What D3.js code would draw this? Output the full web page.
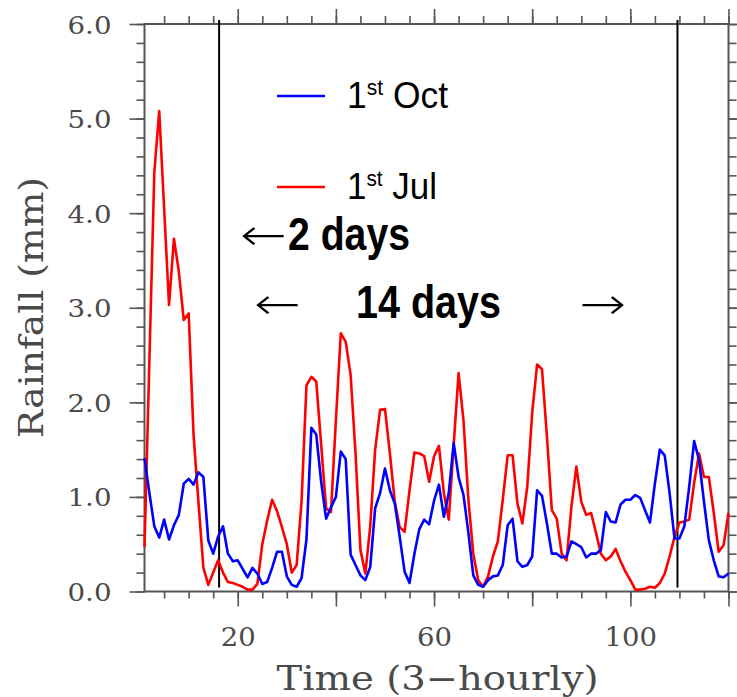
<!DOCTYPE html>
<html>
<head>
<meta charset="utf-8">
<script src="https://d3js.org/d3.v7.min.js"></script>
<style>
  body { margin: 0; background: #fff; }
</style>
</head>
<body>
<div id="my_dataviz"></div>
<script>
// time steps (3-hourly), 120 steps = 15 days
var time = d3.range(1, 121);

// rainfall (mm), run started 1st Oct
var rainOct = [1.41, 1.04, 0.69, 0.57, 0.76, 0.55, 0.70, 0.81, 1.14, 1.19,
               1.13, 1.26, 1.21, 0.54, 0.40, 0.58, 0.69, 0.40, 0.32, 0.33,
               0.24, 0.15, 0.25, 0.19, 0.08, 0.10, 0.25, 0.42, 0.42, 0.16,
               0.07, 0.05, 0.14, 0.55, 1.73, 1.66, 1.16, 0.77, 0.89, 1.00,
               1.48, 1.40, 0.39, 0.28, 0.17, 0.12, 0.26, 0.88, 1.04, 1.30,
               1.07, 0.93, 0.58, 0.21, 0.09, 0.40, 0.66, 0.76, 0.71, 0.96,
               1.13, 0.79, 1.04, 1.57, 1.21, 1.02, 0.62, 0.17, 0.07, 0.05,
               0.12, 0.16, 0.17, 0.28, 0.70, 0.77, 0.32, 0.26, 0.28, 0.37,
               1.07, 1.01, 0.72, 0.40, 0.40, 0.36, 0.37, 0.53, 0.50, 0.47,
               0.36, 0.40, 0.40, 0.44, 0.84, 0.74, 0.73, 0.92, 0.97, 0.97,
               1.02, 0.99, 0.86, 0.73, 1.14, 1.50, 1.44, 1.04, 0.56, 0.56,
               0.69, 1.11, 1.59, 1.39, 0.95, 0.54, 0.33, 0.16, 0.15, 0.19];

// rainfall (mm), run started 1st Jul
var rainJul = [0.47, 2.45, 4.43, 5.08, 4.05, 3.03, 3.73, 3.38, 2.87, 2.94,
               1.65, 0.94, 0.25, 0.07, 0.20, 0.33, 0.20, 0.10, 0.09, 0.07,
               0.05, 0.02, 0.02, 0.08, 0.50, 0.75, 0.97, 0.85, 0.68, 0.50,
               0.20, 0.28, 0.95, 2.18, 2.27, 2.22, 1.55, 0.88, 0.84, 1.81,
               2.73, 2.64, 2.29, 1.46, 0.44, 0.19, 0.69, 1.50, 1.92, 1.93,
               1.46, 0.95, 0.68, 0.63, 1.07, 1.47, 1.46, 1.43, 1.16, 1.43,
               1.54, 1.04, 0.76, 1.55, 2.31, 1.81, 0.97, 0.40, 0.12, 0.05,
               0.16, 0.37, 0.53, 0.97, 1.44, 1.44, 0.93, 0.72, 1.11, 1.89,
               2.40, 2.35, 1.64, 0.86, 0.77, 0.40, 0.33, 0.90, 1.32, 0.95,
               0.81, 0.83, 0.62, 0.40, 0.33, 0.37, 0.45, 0.32, 0.21, 0.12,
               0.02, 0.02, 0.03, 0.05, 0.04, 0.09, 0.19, 0.37, 0.58, 0.73,
               0.74, 0.76, 1.15, 1.46, 1.21, 1.21, 0.83, 0.42, 0.49, 0.83];

var yTicks = [0, 1, 2, 3, 4, 5, 6];
var xMajor = [20, 40, 60, 80, 100, 120];
var xTickLabels = [20, 60, 100];
var dayLines = [16.2, 109.6];   // spin-up (2 days) and end of 14 day window

// set the dimensions and margins of the graph
var margin = {top: 24, right: 8.5, bottom: 105.5, left: 144.5},
    width = 737 - margin.left - margin.right,
    height = 697 - margin.top - margin.bottom;

var root = d3.select("#my_dataviz")
  .append("svg")
    .attr("width", 737)
    .attr("height", 697);

var svg = root.append("g")
    .attr("transform", "translate(" + margin.left + "," + margin.top + ")");

var x = d3.scaleLinear().domain([1, 120]).range([0, width]);
var y = d3.scaleLinear().domain([0, 6]).range([height, 0]);

var axisCol = "#555";
var xMinor = d3.range(5, 121, 5);
var yMinor = d3.range(0, 31).map(function(i) { return i / 5; });

function styleAxis(g) {
  g.select(".domain").remove();
  g.selectAll(".tick line").attr("stroke", axisCol).attr("stroke-width", 1.6);
}

// Add X axis (bottom + top)
svg.append("g")
  .attr("transform", "translate(0," + height + ")")
  .call(d3.axisBottom(x).tickValues(xMinor).tickSize(7).tickFormat(""))
  .call(styleAxis);
var xb = svg.append("g")
  .attr("transform", "translate(0," + height + ")")
  .call(d3.axisBottom(x).tickValues(xMajor).tickSize(15).tickPadding(21)
    .tickFormat(function(d) { return xTickLabels.indexOf(d) >= 0 ? d : ""; }))
  .call(styleAxis);
xb.selectAll("text")
  .attr("fill", "#4a4a4a")
  .style("font-family", "DejaVu Serif")
  .style("font-size", "26px")
  .each(function(d) {
    var s = String(xTickLabels.indexOf(d) >= 0 ? d : "");
    if (s) d3.select(this).attr("textLength", 17.5 * s.length).attr("lengthAdjust", "spacingAndGlyphs");
  });

svg.append("g")
  .call(d3.axisTop(x).tickValues(xMinor).tickSize(8).tickFormat(""))
  .call(styleAxis);
svg.append("g")
  .call(d3.axisTop(x).tickValues(xMajor).tickSize(15).tickFormat(""))
  .call(styleAxis);

// Add Y axis (left + right)
svg.append("g")
  .call(d3.axisLeft(y).tickValues(yMinor).tickSize(8).tickFormat(""))
  .call(styleAxis);
var yl = svg.append("g")
  .call(d3.axisLeft(y).tickValues(yTicks).tickSize(15).tickPadding(18).tickFormat(d3.format(".1f")))
  .call(styleAxis);
yl.selectAll("text")
  .attr("fill", "#4a4a4a")
  .attr("dy", "0.36em")
  .style("font-family", "DejaVu Serif")
  .style("font-size", "25px")
  .attr("textLength", 44)
  .attr("lengthAdjust", "spacingAndGlyphs");

svg.append("g")
  .attr("transform", "translate(" + width + ",0)")
  .call(d3.axisRight(y).tickValues(yMinor).tickSize(8).tickFormat(""))
  .call(styleAxis);
svg.append("g")
  .attr("transform", "translate(" + width + ",0)")
  .call(d3.axisRight(y).tickValues(yTicks).tickSize(15).tickFormat(""))
  .call(styleAxis);

// frame
svg.append("rect")
  .attr("width", width)
  .attr("height", height)
  .attr("fill", "none")
  .attr("stroke", axisCol)
  .attr("stroke-width", 2);

// axis titles
root.append("text")
  .attr("x", 437.5)
  .attr("y", 690)
  .attr("text-anchor", "middle")
  .attr("fill", "#4a4a4a")
  .style("font-family", "DejaVu Serif")
  .style("font-size", "33px")
  .attr("textLength", 322)
  .attr("lengthAdjust", "spacingAndGlyphs")
  .text("Time (3\u2212hourly)");

root.append("text")
  .attr("transform", "translate(43,307.5) rotate(-90)")
  .attr("text-anchor", "middle")
  .attr("fill", "#4a4a4a")
  .style("font-family", "DejaVu Serif")
  .style("font-size", "33px")
  .attr("textLength", 261)
  .attr("lengthAdjust", "spacingAndGlyphs")
  .text("Rainfall (mm)");

// vertical markers
svg.selectAll("line.marker")
  .data(dayLines)
  .enter()
  .append("line")
    .attr("class", "marker")
    .attr("x1", function(d) { return x(d); })
    .attr("x2", function(d) { return x(d); })
    .attr("y1", -4)
    .attr("y2", height - 4)
    .attr("stroke", "#000")
    .attr("stroke-width", 2);

// Add lines
var line = d3.line()
  .x(function(d, i) { return x(time[i]); })
  .y(function(d) { return y(d); });

svg.append("path")
  .datum(rainJul)
  .attr("d", line)
  .attr("fill", "none")
  .attr("stroke", "#ff0000")
  .attr("stroke-width", 2.6)
  .attr("stroke-linejoin", "round");

svg.append("path")
  .datum(rainOct)
  .attr("d", line)
  .attr("fill", "none")
  .attr("stroke", "#0000ff")
  .attr("stroke-width", 2.6)
  .attr("stroke-linejoin", "round");

// legend
var legend = [
  {name: "Oct", color: "#0000ff", y: 96, w: 101},
  {name: "Jul", color: "#ff0000", y: 187, w: 90}
];
legend.forEach(function(l) {
  root.append("line")
    .attr("x1", 277).attr("x2", 325)
    .attr("y1", l.y).attr("y2", l.y)
    .attr("stroke", l.color)
    .attr("stroke-width", 2.6);
  var t = root.append("text")
    .attr("x", 347)
    .attr("y", l.y + 12)
    .attr("fill", "#000")
    .style("font-family", "Liberation Sans")
    .style("font-size", "37px")
    .attr("textLength", l.w)
    .attr("lengthAdjust", "spacingAndGlyphs");
  t.append("tspan").text("1");
  t.append("tspan").attr("dy", -13).style("font-size", "22px").text("st");
  t.append("tspan").attr("dy", 13).text(" " + l.name);
});

// annotations
function arrow(txt, x0, yb, w) {
  root.append("text")
    .attr("x", x0)
    .attr("y", yb)
    .style("font-family", "DejaVu Sans")
    .style("font-weight", "300")
    .style("font-size", "44px")
    .attr("textLength", w)
    .attr("lengthAdjust", "spacingAndGlyphs")
    .text(txt);
}
function bold(txt, x0, yb, w) {
  root.append("text")
    .attr("x", x0)
    .attr("y", yb)
    .style("font-family", "Liberation Sans")
    .style("font-weight", "bold")
    .style("font-size", "46px")
    .attr("textLength", w)
    .attr("lengthAdjust", "spacingAndGlyphs")
    .text(txt);
}
arrow("\u2190", 240, 250, 47);
bold("2 days", 288, 250, 122);
arrow("\u2190", 254, 319, 47);
bold("14 days", 356, 318, 145);
arrow("\u2192", 579, 319, 47);
</script>
</body>
</html>
